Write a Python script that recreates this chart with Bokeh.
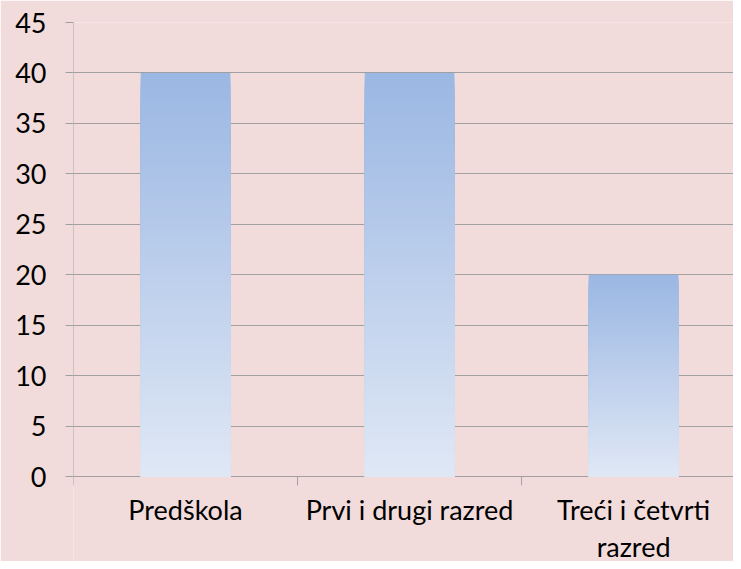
import math
from bokeh.plotting import figure
from bokeh.models import Range1d, FixedTicker
from bokeh.embed import file_html
from bokeh.resources import INLINE

categories = ["Predškola", "Prvi i drugi razred", "Treći i četvrti\nrazred"]
values = [40, 40, 20]
y_ticks = [0, 5, 10, 15, 20, 25, 30, 35, 40, 45]

BG = "#F2DCDB"
GRID = "#A0A0A0"
TOP = (155, 183, 227)
BOTTOM = (224, 232, 245)
FONT = "Lato"
N = 80
BAR_W = 0.4

# frame spans down to the figure bottom; the area below 0 holds the category labels
p = figure(width=733, height=561, output_backend="svg", toolbar_location=None,
           x_axis_location=None,
           x_range=Range1d(0, 2.946), y_range=Range1d(-8.425, 45),
           min_border_left=73, min_border_right=0, min_border_top=22, min_border_bottom=0)
p.background_fill_color = BG
p.border_fill_color = BG
p.outline_line_color = None

# gradient bars: stacked quads from 0 up, darkest (tallest) first
left, right, top, bottom, colors = [], [], [], [], []
for k in range(N, 0, -1):
    f = k / N
    r = round(BOTTOM[0] + (TOP[0] - BOTTOM[0]) * f)
    g = round(BOTTOM[1] + (TOP[1] - BOTTOM[1]) * f)
    b = round(BOTTOM[2] + (TOP[2] - BOTTOM[2]) * f)
    c = "#%02x%02x%02x" % (r, g, b)
    for i, v in enumerate(values):
        cx = i + 0.5
        left.append(cx - BAR_W / 2)
        right.append(cx + BAR_W / 2)
        bottom.append(0)
        top.append(v * f)
        colors.append(c)
p.quad(left=left, right=right, top=top, bottom=bottom, fill_color=colors, line_color=None)

# value axis line (from lowest to highest tick)
p.segment(x0=[0], y0=[min(y_ticks)], x1=[0], y1=[max(y_ticks)], line_color=GRID, line_width=1)

# category boundary ticks below the zero line
boundaries = list(range(len(categories) + 1))
p.ray(x=boundaries, y=[0] * len(boundaries), length=9, length_units="screen",
      angle=-math.pi / 2, line_color=GRID, line_width=1)

# category labels
centers = [i + 0.5 for i in range(len(categories))]
p.text(x=centers, y=[0] * len(categories), text=categories, y_offset=16,
       text_align="center", text_baseline="top", text_font={"value": FONT},
       text_font_size={"value": "27px"}, text_color="#000000", text_line_height=1.15)

# y axis
p.yaxis.ticker = FixedTicker(ticks=y_ticks)
p.yaxis.minor_tick_line_color = None
p.yaxis.major_tick_out = 8
p.yaxis.major_tick_in = 0
p.yaxis.major_tick_line_color = GRID
p.yaxis.axis_line_color = None
p.yaxis.major_label_text_font = FONT
p.yaxis.major_label_text_font_size = "27px"
p.yaxis.major_label_text_color = "#000000"
p.yaxis.major_label_standoff = 19

p.xgrid.grid_line_color = None
p.ygrid.grid_line_color = GRID
p.ygrid.ticker = FixedTicker(ticks=y_ticks)

open("out.html", "w").write(file_html(p, INLINE))
